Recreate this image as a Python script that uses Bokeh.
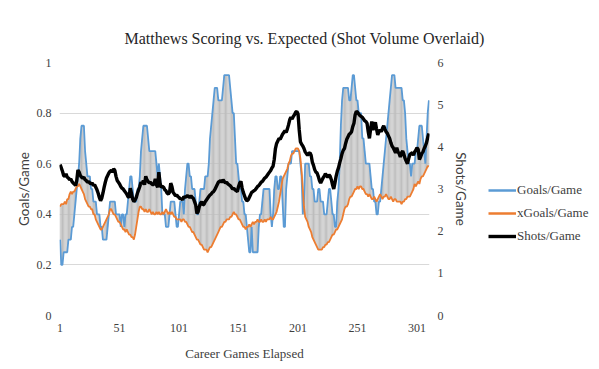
from bokeh.plotting import figure
from bokeh.layouts import row
from bokeh.models import Range1d, LinearAxis, FixedTicker, Legend, LegendItem
from bokeh.embed import file_html
from bokeh.resources import INLINE

goals = [
    0.30, 0.20, 0.20, 0.25, 0.25, 0.25, 0.25, 0.30, 0.30, 0.30,
    0.35, 0.35, 0.40, 0.45, 0.50, 0.55, 0.60, 0.70, 0.75, 0.75,
    0.75, 0.65, 0.60, 0.55, 0.55, 0.55, 0.50, 0.50, 0.45, 0.45,
    0.45, 0.40, 0.40, 0.40, 0.35, 0.35, 0.30, 0.30, 0.30, 0.30,
    0.35, 0.40, 0.45, 0.45, 0.45, 0.45, 0.45, 0.40, 0.40, 0.40,
    0.40, 0.35, 0.40, 0.40, 0.35, 0.40, 0.40, 0.45, 0.50, 0.55,
    0.55, 0.50, 0.45, 0.45, 0.45, 0.50, 0.50, 0.55, 0.65, 0.70,
    0.75, 0.75, 0.75, 0.75, 0.70, 0.65, 0.65, 0.65, 0.65, 0.65,
    0.65, 0.60, 0.55, 0.60, 0.55, 0.50, 0.40, 0.40, 0.40, 0.35,
    0.35, 0.35, 0.40, 0.45, 0.45, 0.45, 0.45, 0.40, 0.35, 0.35,
    0.40, 0.45, 0.45, 0.45, 0.40, 0.50, 0.55, 0.60, 0.60, 0.55,
    0.55, 0.50, 0.50, 0.50, 0.45, 0.40, 0.40, 0.45, 0.50, 0.50,
    0.50, 0.50, 0.55, 0.55, 0.55, 0.60, 0.70, 0.75, 0.80, 0.85,
    0.90, 0.90, 0.90, 0.85, 0.85, 0.85, 0.85, 0.90, 0.95, 0.95,
    0.95, 0.95, 0.95, 0.90, 0.85, 0.80, 0.80, 0.70, 0.60, 0.60,
    0.55, 0.50, 0.50, 0.45, 0.45, 0.40, 0.40, 0.35, 0.30, 0.25,
    0.25, 0.35, 0.25, 0.25, 0.25, 0.25, 0.25, 0.35, 0.40, 0.40,
    0.45, 0.50, 0.50, 0.50, 0.50, 0.50, 0.50, 0.40, 0.35, 0.40,
    0.50, 0.55, 0.55, 0.50, 0.50, 0.55, 0.55, 0.45, 0.35, 0.35,
    0.50, 0.55, 0.60, 0.60, 0.60, 0.65, 0.65, 0.65, 0.65, 0.65,
    0.65, 0.65, 0.60, 0.55, 0.40, 0.45, 0.60, 0.60, 0.60, 0.60,
    0.55, 0.55, 0.50, 0.50, 0.45, 0.45, 0.45, 0.50, 0.50, 0.45,
    0.45, 0.45, 0.40, 0.40, 0.40, 0.45, 0.50, 0.50, 0.45, 0.40,
    0.40, 0.35, 0.35, 0.45, 0.50, 0.60, 0.75, 0.85, 0.90, 0.90,
    0.90, 0.90, 0.90, 0.85, 0.85, 0.90, 0.95, 0.95, 0.90, 0.85,
    0.85, 0.80, 0.80, 0.80, 0.70, 0.70, 0.65, 0.60, 0.60, 0.60,
    0.60, 0.55, 0.50, 0.50, 0.45, 0.45, 0.40, 0.40, 0.45, 0.45,
    0.50, 0.55, 0.60, 0.65, 0.70, 0.75, 0.80, 0.85, 0.90, 0.95,
    0.95, 0.95, 0.90, 0.90, 0.90, 0.90, 0.90, 0.90, 0.85, 0.85,
    0.80, 0.70, 0.65, 0.60, 0.60, 0.55, 0.60, 0.60, 0.60, 0.65,
    0.65, 0.70, 0.75, 0.75, 0.75, 0.70, 0.65, 0.60, 0.70, 0.80,
    0.85,
]

xgoals = [
    0.43, 0.44, 0.44, 0.44, 0.45, 0.44, 0.46, 0.46, 0.48, 0.49,
    0.48, 0.49, 0.49, 0.50, 0.51, 0.51, 0.52, 0.51, 0.50, 0.49,
    0.48, 0.46, 0.45, 0.44, 0.43, 0.43, 0.42, 0.42, 0.40, 0.40,
    0.38, 0.37, 0.36, 0.35, 0.34, 0.34, 0.35, 0.36, 0.37, 0.38,
    0.39, 0.40, 0.42, 0.42, 0.41, 0.40, 0.40, 0.39, 0.38, 0.37,
    0.37, 0.36, 0.35, 0.34, 0.34, 0.33, 0.34, 0.33, 0.32, 0.32,
    0.31, 0.31, 0.30, 0.32, 0.35, 0.38, 0.41, 0.43, 0.43, 0.42,
    0.42, 0.41, 0.42, 0.41, 0.41, 0.42, 0.41, 0.40, 0.41, 0.40,
    0.40, 0.41, 0.40, 0.41, 0.40, 0.40, 0.41, 0.40, 0.41, 0.42,
    0.41, 0.40, 0.41, 0.40, 0.41, 0.40, 0.39, 0.39, 0.38, 0.38,
    0.38, 0.38, 0.37, 0.38, 0.38, 0.37, 0.37, 0.36, 0.35, 0.35,
    0.34, 0.33, 0.33, 0.32, 0.31, 0.30, 0.30, 0.29, 0.28, 0.28,
    0.27, 0.26, 0.26, 0.26, 0.25, 0.26, 0.27, 0.27, 0.28, 0.29,
    0.30, 0.31, 0.32, 0.33, 0.34, 0.35, 0.35, 0.36, 0.37, 0.37,
    0.38, 0.38, 0.38, 0.39, 0.39, 0.40, 0.41, 0.40, 0.40, 0.39,
    0.38, 0.38, 0.37, 0.36, 0.35, 0.35, 0.34, 0.35, 0.35, 0.36,
    0.35, 0.36, 0.37, 0.36, 0.37, 0.37, 0.38, 0.37, 0.37, 0.38,
    0.37, 0.37, 0.38, 0.37, 0.38, 0.38, 0.38, 0.39, 0.38, 0.38,
    0.39, 0.40, 0.41, 0.43, 0.45, 0.48, 0.51, 0.54, 0.55, 0.56,
    0.57, 0.58, 0.60, 0.61, 0.63, 0.64, 0.64, 0.65, 0.66, 0.66,
    0.66, 0.65, 0.62, 0.57, 0.50, 0.43, 0.39, 0.38, 0.37, 0.35,
    0.34, 0.33, 0.31, 0.30, 0.29, 0.28, 0.27, 0.26, 0.26, 0.26,
    0.26, 0.27, 0.27, 0.28, 0.28, 0.29, 0.29, 0.30, 0.31, 0.32,
    0.32, 0.33, 0.34, 0.34, 0.35, 0.36, 0.37, 0.38, 0.40, 0.42,
    0.43, 0.43, 0.44, 0.46, 0.47, 0.47, 0.48, 0.49, 0.50, 0.50,
    0.51, 0.50, 0.51, 0.51, 0.50, 0.50, 0.49, 0.48, 0.48, 0.47,
    0.48, 0.47, 0.46, 0.46, 0.47, 0.46, 0.45, 0.46, 0.47, 0.48,
    0.47, 0.46, 0.47, 0.47, 0.48, 0.47, 0.46, 0.46, 0.47, 0.46,
    0.45, 0.46, 0.46, 0.45, 0.45, 0.45, 0.45, 0.44, 0.45, 0.45,
    0.46, 0.46, 0.47, 0.47, 0.47, 0.48, 0.49, 0.50, 0.52, 0.51,
    0.52, 0.53, 0.52, 0.54, 0.55, 0.55, 0.56, 0.57, 0.58, 0.59,
    0.59,
]

shots = [
    3.58, 3.50, 3.42, 3.32, 3.30, 3.36, 3.28, 3.26, 3.22, 3.24,
    3.18, 3.14, 3.12, 3.08, 3.20, 3.45, 3.40, 3.32, 3.28, 3.26,
    3.28, 3.22, 3.20, 3.16, 3.18, 3.14, 3.12, 3.14, 3.08, 3.10,
    3.04, 2.98, 2.90, 2.80, 2.72, 2.78, 2.90, 3.04, 3.16, 3.26,
    3.32, 3.38, 3.42, 3.44, 3.40, 3.48, 3.44, 3.30, 3.20, 3.16,
    3.12, 3.06, 3.02, 3.00, 2.96, 2.92, 2.88, 2.82, 2.80, 3.02,
    2.90, 2.76, 2.70, 2.74, 2.80, 2.90, 2.98, 3.06, 3.16, 3.12,
    3.20, 3.10, 3.30, 3.22, 3.18, 3.14, 3.16, 3.12, 3.10, 3.12,
    3.24, 3.10, 3.04, 3.40, 3.14, 3.04, 3.06, 3.04, 2.98, 2.96,
    2.90, 2.88, 2.92, 3.14, 3.06, 2.92, 2.88, 2.84, 2.86, 2.82,
    2.80, 2.76, 2.78, 2.74, 2.82, 2.80, 2.82, 2.84, 2.82, 2.80,
    2.84, 2.80, 2.78, 2.70, 2.62, 2.42, 2.46, 2.58, 2.66, 2.70,
    2.62, 2.64, 2.70, 2.74, 2.78, 2.82, 2.86, 2.88, 2.92, 2.94,
    2.98, 3.04, 3.10, 3.16, 3.18, 3.20, 3.16, 3.22, 3.18, 3.14,
    3.16, 3.12, 3.10, 3.08, 3.04, 3.00, 3.02, 2.98, 2.96, 2.94,
    3.06, 3.14, 3.18, 3.02, 2.92, 2.84, 2.76, 2.72, 2.74, 2.80,
    2.86, 2.92, 2.94, 2.96, 2.98, 3.02, 3.06, 3.08, 3.12, 3.16,
    3.18, 3.22, 3.26, 3.28, 3.32, 3.36, 3.40, 3.44, 3.50, 3.54,
    3.70, 3.96, 4.08, 4.14, 4.20, 4.18, 4.24, 4.30, 4.34, 4.38,
    4.34, 4.42, 4.52, 4.64, 4.70, 4.66, 4.72, 4.76, 4.82, 4.84,
    4.78, 4.40, 4.12, 4.06, 4.02, 3.96, 3.88, 3.84, 3.80, 3.84,
    3.86, 3.80, 3.64, 3.56, 3.46, 3.40, 3.38, 3.30, 3.20, 3.14,
    3.20, 3.26, 3.30, 3.36, 3.32, 3.28, 3.34, 3.30, 3.22, 3.10,
    3.00, 3.14, 3.30, 3.42, 3.50, 3.62, 3.72, 3.84, 3.92, 3.96,
    4.08, 4.18, 4.24, 4.30, 4.32, 4.36, 4.48, 4.56, 4.76, 4.84,
    4.82, 4.78, 4.74, 4.72, 4.70, 4.66, 4.62, 4.60, 4.56, 4.36,
    4.20, 4.42, 4.60, 4.40, 4.50, 4.58, 4.42, 4.28, 4.36, 4.40,
    4.36, 4.44, 4.50, 4.42, 4.36, 4.32, 4.26, 4.20, 4.10, 4.02,
    3.98, 3.92, 3.86, 3.98, 3.88, 3.84, 3.76, 3.86, 3.90, 3.82,
    3.72, 3.66, 3.60, 3.72, 3.82, 3.84, 3.86, 3.80, 3.88, 3.92,
    3.98, 3.94, 3.70, 3.76, 3.84, 3.88, 3.96, 4.02, 4.10, 4.22,
    4.32,
]

games = list(range(1, len(goals) + 1))
x_ticks = [1, 51, 101, 151, 201, 251, 301]
left_ticks = [0, 0.2, 0.4, 0.6, 0.8, 1]
left_labels = ["0", "0.2", "0.4", "0.6", "0.8", "1"]
right_ticks = [0, 1, 2, 3, 4, 5, 6]
series_names = ["Goals/Game", "xGoals/Game", "Shots/Game"]

SERIF = "Liberation Serif"
SANS = "Lato"
TXT = "#404040"
BLUE, ORANGE, BLACK = "#5B9BD5", "#ED7D31", "#000000"
H = 364

p = figure(
    width=487, height=H,
    min_border_left=59, min_border_right=58,
    min_border_top=62, min_border_bottom=49,
    x_range=Range1d(0.5, len(goals) + 0.5), y_range=Range1d(0, 1),
    output_backend="svg", toolbar_location=None,
    title="Matthews Scoring vs. Expected (Shot Volume Overlaid)",
)
p.extra_y_ranges = {"shots": Range1d(0, 6)}

p.title.text_font = SERIF
p.title.text_font_size = "16px"
p.title.text_font_style = "normal"
p.title.text_color = "#262626"
p.title.align = "left"
p.title.offset = 65
p.title.standoff = 32

p.outline_line_color = None
p.xgrid.grid_line_color = None
p.ygrid.grid_line_color = "#D9D9D9"
p.ygrid.ticker = FixedTicker(ticks=left_ticks)

# high-low lines between goals and expected goals
lo = [min(a, b) for a, b in zip(goals, xgoals)]
hi = [max(a, b) for a, b in zip(goals, xgoals)]
p.segment(x0=games, y0=lo, x1=games, y1=hi, line_color="#BDBDBD", line_width=1)

p.line(games, goals, line_color=BLUE, line_width=1.8)
p.line(games, xgoals, line_color=ORANGE, line_width=1.8)
p.line(games, shots, line_color=BLACK, line_width=3.4, y_range_name="shots")

def style_axis(ax, standoff, lab_standoff, lab_font, lab_size):
    ax.axis_line_color = None
    ax.major_tick_line_color = None
    ax.minor_tick_line_color = None
    ax.major_tick_out = 0
    ax.major_tick_in = 0
    ax.minor_tick_out = 0
    ax.minor_tick_in = 0
    ax.major_label_text_font = SERIF
    ax.major_label_text_font_size = "12px"
    ax.major_label_text_color = TXT
    ax.major_label_standoff = standoff
    ax.axis_label_text_font = lab_font
    ax.axis_label_text_font_size = lab_size
    ax.axis_label_text_font_style = "normal"
    ax.axis_label_text_color = TXT
    ax.axis_label_standoff = lab_standoff

xa = p.xaxis[0]
xa.ticker = FixedTicker(ticks=x_ticks)
xa.axis_label = "Career Games Elapsed"
style_axis(xa, 8, 11, SERIF, "13px")

ya = p.yaxis[0]
ya.ticker = FixedTicker(ticks=left_ticks)
ya.major_label_overrides = {t: s for t, s in zip(left_ticks, left_labels)}
ya.axis_label = "Goals/Game"
style_axis(ya, 8, 2, SANS, "13.5px")

ra = LinearAxis(y_range_name="shots", ticker=FixedTicker(ticks=right_ticks), axis_label="Shots/Game")
style_axis(ra, 8, 6, SANS, "13.5px")
p.add_layout(ra, "right")

# legend panel to the right of the chart (its sample lines use the same
# series but lie outside this panel's ranges, so only the key shows)
lg = figure(
    width=103, height=H, min_border=0,
    x_range=Range1d(-20, -10), y_range=Range1d(-20, -10),
    x_axis_type=None, y_axis_type=None,
    output_backend="svg", toolbar_location=None,
)
lg.grid.visible = False
lg.outline_line_color = None
lr = [
    lg.line(games, goals, line_color=BLUE, line_width=2.5),
    lg.line(games, xgoals, line_color=ORANGE, line_width=2.5),
    lg.line(games, shots, line_color=BLACK, line_width=3.4),
]
legend = Legend(
    items=[LegendItem(label=n, renderers=[r]) for n, r in zip(series_names, lr)],
    location=(1, 69), padding=0, margin=0, spacing=3,
    glyph_width=28, glyph_height=20, label_standoff=1,
    background_fill_alpha=0, border_line_alpha=0,
    label_text_font=SERIF, label_text_font_size="13px", label_text_color=TXT,
)
lg.add_layout(legend)

layout = row(p, lg)
open("out.html", "w").write(file_html(layout, INLINE))
